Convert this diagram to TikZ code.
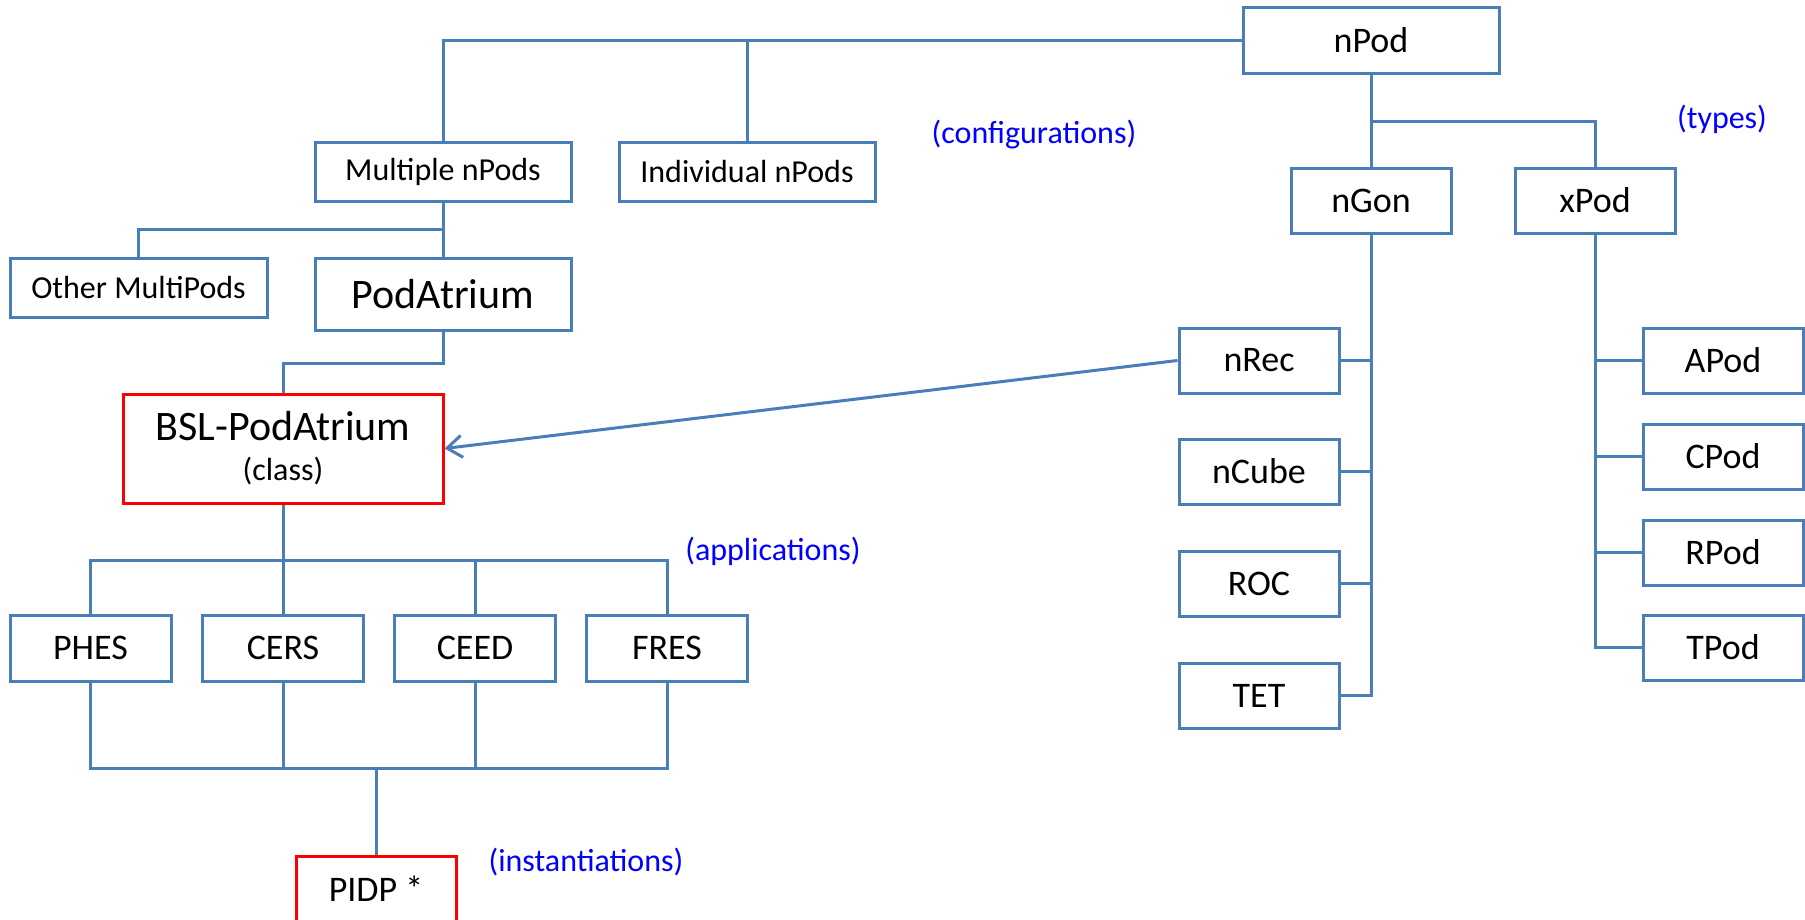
\documentclass[tikz,border=0pt]{standalone}
\usepackage{fontspec}
\setmainfont{Carlito}
\usetikzlibrary{arrows.meta,calc}
\definecolor{linkblue}{HTML}{4A7EBB}
\definecolor{boxred}{HTML}{FF0000}
\definecolor{notecol}{HTML}{0000FF}
\tikzset{
  wire/.style={draw=linkblue, line width=3pt},
  bx/.style={draw=linkblue, line width=3pt, inner sep=0pt, text=black},
  redbx/.style={bx, draw=boxred},
  fsmall/.style={font=\fontsize{32}{38}\selectfont},
  fmid/.style={font=\fontsize{36}{43}\selectfont},
  flarge/.style={font=\fontsize{42}{50}\selectfont},
  note/.style={text=notecol, font=\fontsize{32}{38}\selectfont, inner sep=0pt},
  wbox/.style={minimum width=256pt},
  nbox/.style={minimum width=160pt, minimum height=65pt},
}
\begin{document}
\begin{tikzpicture}[x=1pt,y=-1pt]
  \clip (0,0) rectangle (1805,919);
  \fill[white] (0,0) rectangle (1805,919);

  % configuration branch
  \node[bx,fmid,wbox,minimum height=66pt] (npod) at (1371,40) {nPod};
  \node[bx,fsmall,wbox,minimum height=59pt] (multi) at (443,171.5) {Multiple nPods};
  \node[bx,fsmall,wbox,minimum height=59pt] (indiv) at (747,171.5) {Individual nPods};
  \node[bx,fsmall,minimum width=257pt,minimum height=59pt] (other) at (138.5,287.5) {Other MultiPods};
  \node[bx,flarge,wbox,minimum height=72pt] (atrium) at (443,294) {PodAtrium};
  \node[redbx,minimum width=320pt,minimum height=109pt,align=center,
        font=\fontsize{32}{40}\selectfont] (bsl) at (283,448.5)
    {{\fontsize{42}{50}\selectfont BSL-PodAtrium}\\(class)};

  % applications
  \node[bx,fmid,minimum width=161pt,minimum height=66pt] (phes) at (90.5,648) {PHES};
  \node[bx,fmid,minimum width=161pt,minimum height=66pt] (cers) at (283,648) {CERS};
  \node[bx,fmid,minimum width=161pt,minimum height=66pt] (ceed) at (475,648) {CEED};
  \node[bx,fmid,minimum width=161pt,minimum height=66pt] (fres) at (667,648) {FRES};
  \node[redbx,fmid,minimum width=160pt,minimum height=66pt] (pidp) at (376,889) {PIDP *};

  % types
  \node[bx,fmid,nbox] (ngon) at (1371,200.5) {nGon};
  \node[bx,fmid,nbox] (xpod) at (1595,200.5) {xPod};
  \node[bx,fmid,nbox] (nrec) at (1259,360.5) {nRec};
  \node[bx,fmid,nbox] (ncube) at (1259,471.5) {nCube};
  \node[bx,fmid,nbox] (roc) at (1259,583.5) {ROC};
  \node[bx,fmid,nbox] (tet) at (1259,695.5) {TET};
  \node[bx,fmid,nbox] (apod) at (1723,360.5) {APod};
  \node[bx,fmid,nbox] (cpod) at (1723,456.5) {CPod};
  \node[bx,fmid,nbox] (rpod) at (1723,552.5) {RPod};
  \node[bx,fmid,nbox] (tpod) at (1723,647.5) {TPod};

  % notes
  \node[note] (cfgnote) at (1034,135) {(configurations)};
  \node[note] (typnote) at (1722,119) {(types)};
  \node[note] (appnote) at (773,551) {(applications)};
  \node[note] (instnote) at (586,862) {(instantiations)};

  % connectors: configurations
  \draw[wire] (npod.west) -| (multi.north);
  \draw[wire] (indiv.north) |- (npod.west);
  \draw[wire] (multi.south) -- (atrium.north);
  \draw[wire] (other.north) |- ($(multi.south)!0.5!(atrium.north)$);
  \draw[wire] (atrium.south) -- ++(0,32) -| (bsl.north);

  % connectors: applications
  \coordinate (appbus) at (283,560);
  \coordinate (instbus) at (376,768);
  \draw[wire] (bsl.south) -- (cers.north);
  \draw[wire] (phes.north) |- (appbus) -| (fres.north);
  \draw[wire] (ceed.north) -- (ceed.north |- appbus);
  \draw[wire] (phes.south) |- (instbus) -| (fres.south);
  \draw[wire] (cers.south) -- (cers.south |- instbus);
  \draw[wire] (ceed.south) -- (ceed.south |- instbus);
  \draw[wire] (instbus) -- (pidp.north);

  % connectors: types
  \draw[wire] (npod.south) -- (ngon.north);
  \draw[wire] (npod.south) ++(0,47) -| (xpod.north);
  \draw[wire] (ngon.south) |- (tet.east);
  \draw[wire] (nrec.east) -- (nrec.east -| ngon.south);
  \draw[wire] (ncube.east) -- (ncube.east -| ngon.south);
  \draw[wire] (roc.east) -- (roc.east -| ngon.south);
  \draw[wire] (xpod.south) |- (tpod.west);
  \draw[wire] (apod.west) -- (apod.west -| xpod.south);
  \draw[wire] (cpod.west) -- (cpod.west -| xpod.south);
  \draw[wire] (rpod.west) -- (rpod.west -| xpod.south);

  % class link
  \draw[wire,-{Straight Barb[length=15pt,width=22pt]}] (nrec.west) -- (bsl.east);
\end{tikzpicture}
\end{document}
